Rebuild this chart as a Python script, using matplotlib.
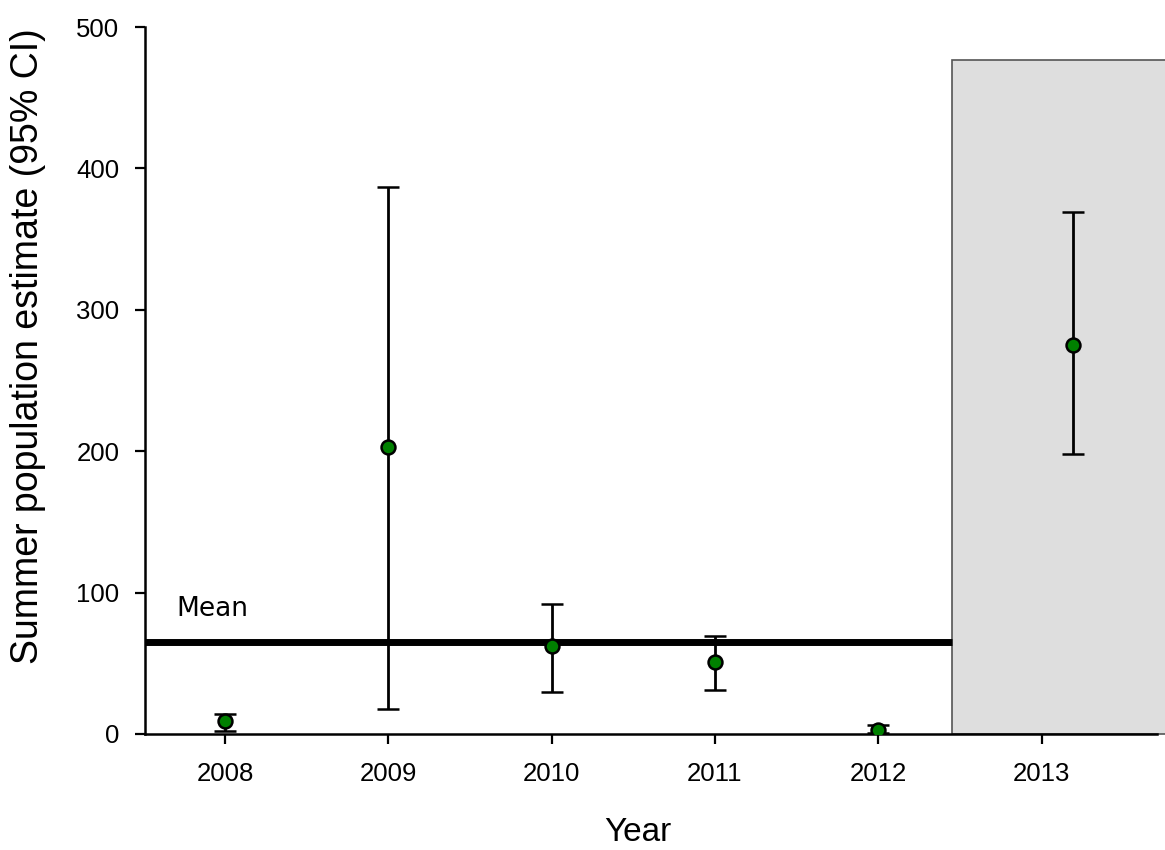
import matplotlib
matplotlib.use("Agg")
import matplotlib.pyplot as plt
from matplotlib.patches import Rectangle

# data
years = [2008, 2009, 2010, 2011, 2012, 2013]
estimate = [9, 203, 62, 51, 3, 275]
ci_low = [2, 18, 30, 31, 1, 198]
ci_high = [14, 387, 92, 69, 6, 369]
mean_value = 65

shade_start = 2012.45   # grey block behind 2013
shade_top = 477
last_shift = 0.19       # the 2013 point sits right of its tick

plt.rcParams['font.family'] = ['Liberation Sans', 'DejaVu Sans']

fig = plt.figure(figsize=(11.65, 8.5), dpi=100)
ax = fig.add_axes([0.1245, 0.1365, 0.9931 - 0.1245, 0.9682 - 0.1365])

x_plot = [y for y in years[:-1]] + [years[-1] + last_shift]
err_lo = [e - l for e, l in zip(estimate, ci_low)]
err_hi = [h - e for e, h in zip(estimate, ci_high)]

xmin, xmax = 2007.51, 2013.707

# grey block, runs past the right edge
ax.add_patch(Rectangle((shade_start, 0), 2013.9 - shade_start, shade_top,
                       facecolor='#dedede', edgecolor='#555555', linewidth=1.2,
                       clip_on=False, zorder=1))

# mean line
ax.plot([xmin, shade_start], [mean_value, mean_value], color='black', lw=5,
        solid_capstyle='butt', zorder=2)
ax.text(2007.7, 79, 'Mean', fontsize=19, family='DejaVu Sans', va='bottom', ha='left')

ax.errorbar(x_plot, estimate, yerr=[err_lo, err_hi], fmt='o', color='black',
            ecolor='black', elinewidth=2, capsize=8, capthick=2,
            markerfacecolor='#008000', markeredgecolor='black', markersize=10,
            markeredgewidth=1.8, zorder=3)

ax.set_xlim(xmin, xmax)
ax.set_ylim(0, 500)
ax.set_xticks(years)
ax.set_xticklabels([str(y) for y in years])
ax.set_yticks([0, 100, 200, 300, 400, 500])

ax.spines['top'].set_visible(False)
ax.spines['right'].set_visible(False)
ax.spines['left'].set_linewidth(1.8)
ax.spines['bottom'].set_linewidth(1.8)
ax.tick_params(axis='both', direction='out', length=7.5, width=1.6, labelsize=18.5)
ax.tick_params(axis='x', pad=13)
ax.tick_params(axis='y', pad=11)

ax.set_xlabel('Year', fontsize=24)
ax.xaxis.set_label_coords(0.487, -0.118)
ax.set_ylabel('Summer population estimate (95% CI)', fontsize=27)
ax.yaxis.set_label_coords(-0.098, 0.549)

fig.savefig('out.png', dpi=100)
